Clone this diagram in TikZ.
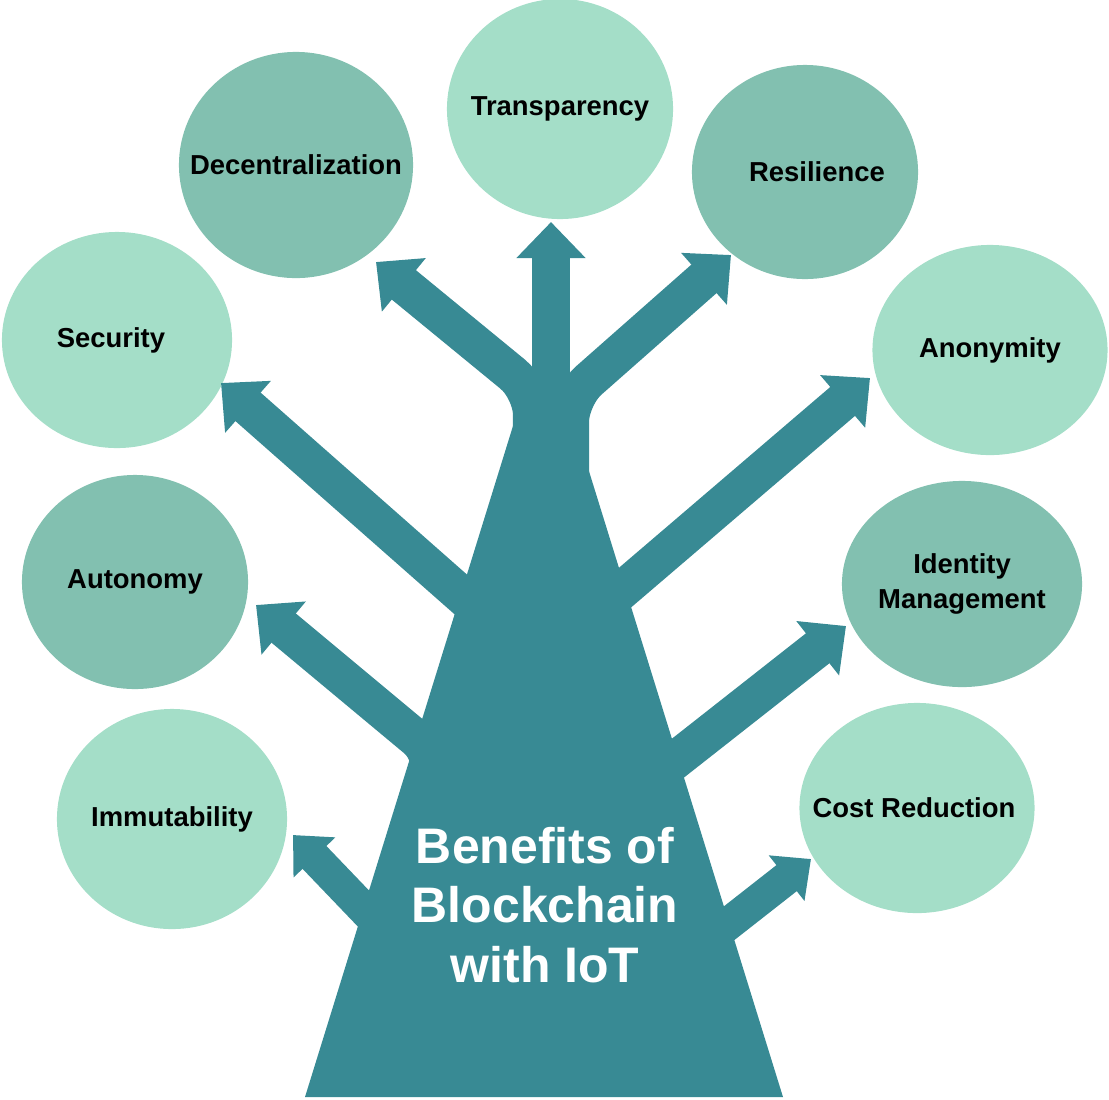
\documentclass[tikz,border=0pt]{standalone}
\usepackage{fontspec}
\setmainfont{Liberation Sans}
\usepackage{tikz}
\usetikzlibrary{shapes.geometric,arrows.meta,positioning}
\definecolor{trunk}{RGB}{56,138,148}
\definecolor{mintlight}{RGB}{164,222,200}
\definecolor{mintdark}{RGB}{130,192,176}

\begin{document}
\begin{tikzpicture}[x=0.01cm, y=-0.01cm,
    bubble/.style={ellipse, inner sep=0pt, align=center, font=\fontsize{7.8}{9.9}\selectfont\bfseries},
    lightbubble/.style={bubble, fill=mintlight},
    darkbubble/.style={bubble, fill=mintdark},
    branch/.style={draw=trunk, line width=0.38cm, rounded corners=0.25cm, -{Triangle[width=0.67cm,length=0.36cm]}},
    twig/.style={draw=trunk, line width=0.33cm, -{Triangle[width=0.56cm,length=0.31cm]}}
]
\useasboundingbox (0,0) rectangle (1109,1099);

% Benefit bubbles
\node[lightbubble, minimum width=2.26cm, minimum height=2.20cm] (transp) at (560,109) {\makebox[0pt]{Transparency}};
\node[darkbubble, minimum width=2.34cm, minimum height=2.26cm] (decentral) at (296,165) {\makebox[0pt]{Decentralization}};
\node[darkbubble, minimum width=2.26cm, minimum height=2.14cm] (resil) at (805,172) {\makebox[0pt]{\hspace{0.24cm}Resilience}};
\node[lightbubble, minimum width=2.30cm, minimum height=2.16cm] (secur) at (117,340) {\makebox[0pt]{Security\hspace{0.12cm}}};
\node[lightbubble, minimum width=2.35cm, minimum height=2.10cm] (anon) at (990,350) {\makebox[0pt]{Anonymity}};
\node[darkbubble, minimum width=2.26cm, minimum height=2.14cm] (auton) at (135,582) {\makebox[0pt]{Autonomy}};
\node[darkbubble, minimum width=2.40cm, minimum height=2.06cm] (ident) at (962,584) {\makebox[0pt]{\begin{tabular}{@{}c@{}}Identity\\Management\end{tabular}}};
\node[lightbubble, minimum width=2.30cm, minimum height=2.20cm] (immut) at (172,819) {\makebox[0pt]{Immutability}};
\node[lightbubble, minimum width=2.35cm, minimum height=2.10cm] (cost) at (917,808) {\makebox[0pt]{Cost Reduction\hspace{0.06cm}}};

% Trunk
\fill[trunk] (305,1097) -- (517,413) -- (588,413) -- (588,468) -- (783,1097) -- cycle;

% Branch ends
\coordinate (transp root) at (551,470);
\coordinate (transp tip) at (551,222);
\coordinate (decentral root) at (532,480);
\coordinate (decentral bend) at (532,390);
\coordinate (decentral tip) at (376,262);
\coordinate (resil root) at (570,480);
\coordinate (resil bend) at (570,397);
\coordinate (resil tip) at (731,255);
\coordinate (secur root) at (500,629);
\coordinate (secur tip) at (221,383);
\coordinate (anon root) at (600,609);
\coordinate (anon tip) at (870,378);
\coordinate (auton root) at (418,812);
\coordinate (auton bend) at (436,755);
\coordinate (auton tip) at (256,605);
\coordinate (ident root) at (645,784);
\coordinate (ident tip) at (846,626);
\coordinate (immut root) at (385,931);
\coordinate (immut tip) at (293,835);
\coordinate (cost root) at (700,946);
\coordinate (cost tip) at (811,859);

% Branches
\draw[branch] (decentral root) -- (decentral bend) -- (decentral tip);
\draw[branch] (resil root) -- (resil bend) -- (resil tip);
\draw[branch] (transp root) -- (transp tip);
\draw[branch] (secur root) -- (secur tip);
\draw[branch] (anon root) -- (anon tip);
\draw[branch] (auton root) -- (auton bend) -- (auton tip);
\draw[branch] (ident root) -- (ident tip);
\draw[twig] (immut root) -- (immut tip);
\draw[twig] (cost root) -- (cost tip);

% Title on the trunk
\node[align=center, text=white, font=\fontsize{14.2}{17}\selectfont\bfseries] (title) at (545,905) {Benefits of\\Blockchain\\with IoT};

\end{tikzpicture}
\end{document}
